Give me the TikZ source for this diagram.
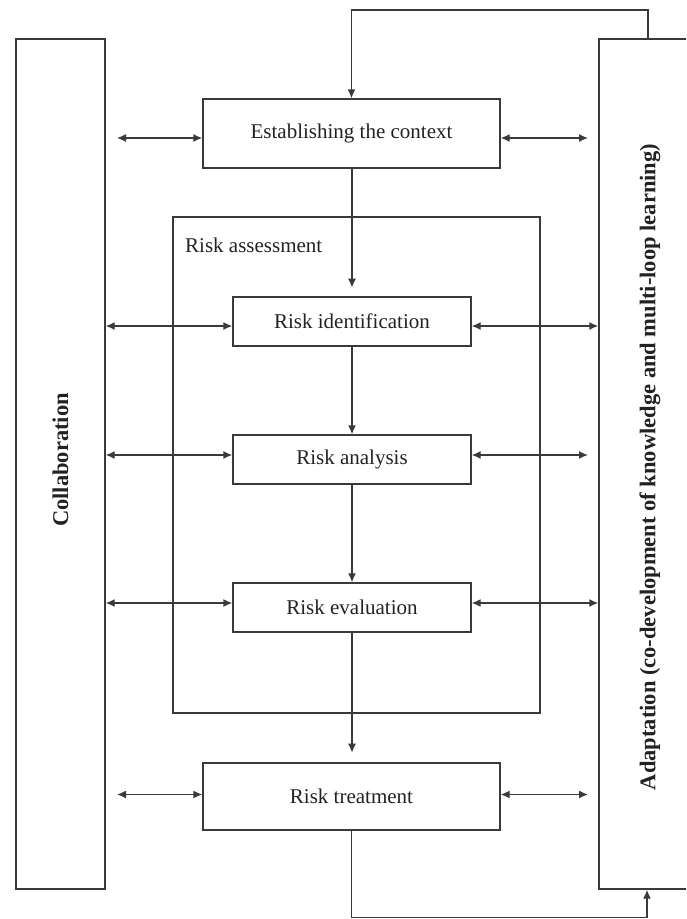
\documentclass[tikz,border=0pt]{standalone}
\usepackage{fontspec}
\setmainfont{Liberation Serif}
\usetikzlibrary{arrows.meta,calc}
\definecolor{ln}{HTML}{3A3A3A}
\definecolor{tx}{HTML}{222222}
\tikzset{
  box/.style={draw=ln, line width=1.4pt, inner sep=0pt, text=tx, font=\fontsize{21}{25}\selectfont},
  sidebox/.style={draw=ln, line width=1.4pt, inner sep=0pt, text=tx, font=\fontsize{22.5}{27}\selectfont\bfseries},
  conn/.style={draw=ln, line width=1.4pt},
  tip/.style={-{Latex[length=9pt,width=8pt]}},
  both/.style={{Latex[length=9pt,width=8pt]}-{Latex[length=9pt,width=8pt]}}
}
\begin{document}
\begin{tikzpicture}[x=1pt,y=-1pt]
\useasboundingbox (0,0) rectangle (686,919);
\clip (0,0) rectangle (686,919);
% side boxes
\node[sidebox, minimum width=89pt, minimum height=850pt] (collab) at (60.5,464) {};
\node[text=tx, font=\fontsize{22.5}{27}\selectfont\bfseries, rotate=90] (collabt) at (60.5,460) {Collaboration};
\node[sidebox, minimum width=103pt, minimum height=850pt] (adapt) at (650.5,464) {};
\node[text=tx, font=\fontsize{22.5}{27}\selectfont\bfseries, rotate=90] (adaptt) at (650,467) {Adaptation (co-development of knowledge and multi-loop learning)};
% risk assessment frame
\node[box, minimum width=367pt, minimum height=496pt] (assess) at (356.5,465) {};
\node[text=tx, font=\fontsize{21}{25}\selectfont, anchor=base west, inner sep=0pt] (assesst) at (185,252) {Risk assessment};
% process boxes
\node[box, minimum width=297pt, minimum height=69pt] (ctx) at (351.5,133.5) {Establishing the context};
\node[box, minimum width=238pt, minimum height=49pt] (ident) at (352,321.5) {Risk identification};
\node[box, minimum width=238pt, minimum height=49pt] (anal) at (352,459.5) {Risk analysis};
\node[box, minimum width=238pt, minimum height=49pt] (eval) at (352,607.5) {Risk evaluation};
\node[box, minimum width=297pt, minimum height=67pt] (treat) at (351.5,796.5) {Risk treatment};
% vertical flow
\draw[conn, tip] (ctx.south -| ident.north) -- ++(0,119);
\draw[conn, tip] (ident.south) -- (anal.north);
\draw[conn, tip] (anal.south) -- (eval.north);
\draw[conn, tip] (eval.south) -- ++(0,120);
% feedback loops
\coordinate (ftop) at (648,10);
\draw[conn, tip] (adapt.north -| ftop) -- (ftop) -- (ftop -| ctx.north) -- (ctx.north);
\coordinate (fbot) at (647,917.5);
\draw[conn, tip] (treat.south) -- (treat.south |- fbot) -- (fbot) -- (fbot |- adapt.south);
% horizontal double arrows
\coordinate (l0) at (117,138);
\coordinate (r0) at (588,138);
\draw[conn, both] (l0) -- (l0 -| ctx.west);
\draw[conn, both] (r0 -| ctx.east) -- (r0);
\coordinate (y1) at (0,326);
\draw[conn, both] (y1 -| collab.east) -- (y1 -| ident.west);
\draw[conn, both] (y1 -| ident.east) -- (y1 -| adapt.west);
\coordinate (y2) at (0,455);
\coordinate (r2) at (588,455);
\draw[conn, both] (y2 -| collab.east) -- (y2 -| anal.west);
\draw[conn, both] (y2 -| anal.east) -- (r2);
\coordinate (y3) at (0,603);
\draw[conn, both] (y3 -| collab.east) -- (y3 -| eval.west);
\draw[conn, both] (y3 -| eval.east) -- (y3 -| adapt.west);
\coordinate (l4) at (117,794.5);
\coordinate (r4) at (588,794.5);
\draw[conn, both] (l4) -- (l4 -| treat.west);
\draw[conn, both] (r4 -| treat.east) -- (r4);
\end{tikzpicture}
\end{document}
